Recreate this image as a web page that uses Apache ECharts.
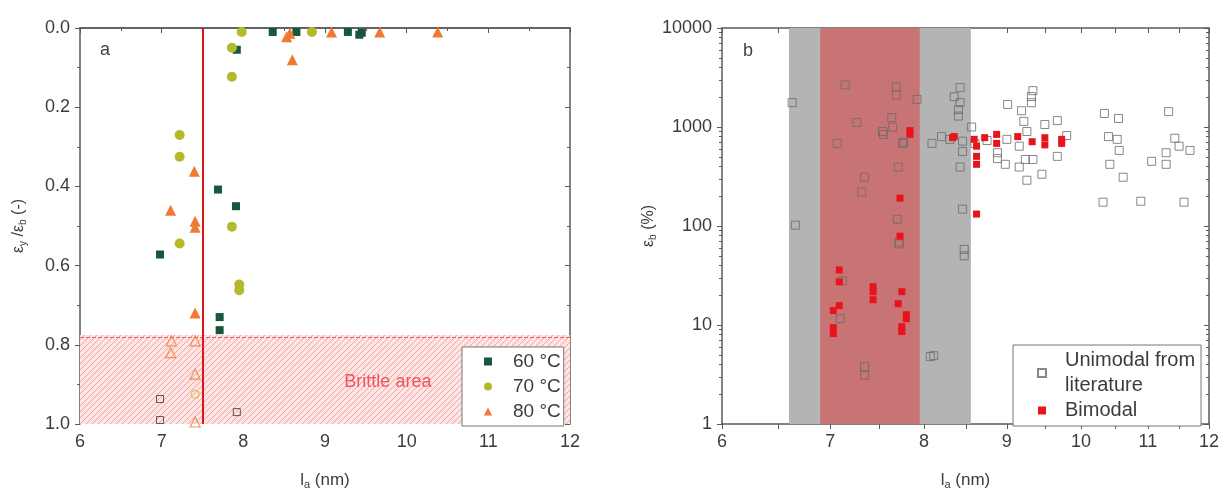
<!DOCTYPE html>
<html>
<head>
<meta charset="utf-8">
<script src="https://cdn.jsdelivr.net/npm/echarts@6/dist/echarts.min.js"></script>
<style>
html,body{margin:0;padding:0;background:#fff;}
#main{width:1222px;height:495px;}
</style>
</head>
<body>
<div id="main"></div>
<script>
// ---------- Panel a data: [la (nm), eps_y/eps_b] ----------
var t60Filled = [[8.36,0.01],[8.65,0.01],[9.28,0.01],[9.45,0.012],[9.42,0.017],[7.92,0.055],[7.69,0.408],[7.91,0.45],[6.98,0.572],[7.71,0.73],[7.71,0.763]];
var t60Hollow = [[6.98,0.937],[6.98,0.99],[7.92,0.97]];
var t70Filled = [[7.98,0.01],[8.84,0.01],[7.86,0.05],[7.86,0.123],[7.22,0.27],[7.22,0.325],[7.22,0.544],[7.86,0.502],[7.95,0.648],[7.95,0.662]];
var t70Hollow = [[7.41,0.925]];
var t80Filled = [[8.57,0.013],[8.53,0.022],[8.6,0.08],[9.08,0.01],[9.67,0.01],[10.38,0.01],[7.4,0.362],[7.11,0.46],[7.41,0.488],[7.41,0.503],[7.41,0.72]];
var t80Hollow = [[7.12,0.79],[7.11,0.82],[7.41,0.79],[7.41,0.874],[7.41,0.995]];
var brittleLimit = 0.775;
var brittleLine = 7.5;

// ---------- Panel b data: [la (nm), eps_b (%)] ----------
var unimodal = [[6.63,1760],[6.66,102],[7.15,2670],[7.27,1110],[7.07,683],[7.35,311],[7.32,220],[7.69,2540],[7.69,2100],[7.64,1245],[7.65,995],[7.55,842],[7.76,683],[7.71,394],[7.92,1900],
  [7.12,28],[7.1,11.6],[7.35,3.8],[7.35,3.1],[8.07,4.8],[8.11,4.9],[7.72,69],[7.7,117],[7.72,66],[7.54,900],[7.77,700],
  [8.09,683],[8.2,800],[8.42,2500],[8.42,1760],[8.35,2020],[8.4,1500],[8.4,1290],[8.45,566],[8.42,394],[8.45,148],[8.56,1000],[8.3,750],[8.47,58],[8.47,50],[8.45,720],
  [9.34,2330],[9.32,2030],[9.32,1760],[9.01,1690],[9.19,1460],[9.22,1140],[9.5,1060],[9.67,1160],[9.26,900],[9.8,820],[9.0,750],[9.16,640],[8.88,550],[8.88,480],[8.98,420],[9.24,470],[9.34,470],[9.16,394],[9.46,333],[9.26,290],[9.67,505],[8.6,680],[8.75,730],
  [10.34,1370],[10.55,1220],[10.4,800],[10.53,750],[10.56,580],[10.42,420],[10.62,311],[10.32,174],[10.89,178],[11.06,450],[11.33,1430],[11.29,550],[11.29,420],[11.43,770],[11.5,640],[11.68,580],[11.58,174]];
var bimodal = [[7.09,36],[7.09,27.3],[7.03,14],[7.09,15.7],[7.03,9.4],[7.03,8.2],[7.44,24.4],[7.44,21.7],[7.44,18],[7.75,21.7],[7.71,16.4],[7.8,12.7],[7.8,11.6],[7.75,9.6],[7.75,8.6],[7.73,191],[7.73,79],[7.84,920],[7.84,842],
  [8.33,780],[8.35,800],[8.59,750],[8.62,640],[8.62,505],[8.62,420],[8.72,780],[8.87,842],[8.87,683],[9.14,800],[9.33,710],[9.5,780],[9.5,660],[9.73,750],[9.73,683],[8.62,132]];
var grayBand = [6.6, 8.55];
var redBand = [6.9, 7.95];

// ticks
var xTicksB = [6,7,8,9,10,11,12];
var xMinorB = [6.5,7.5,8.5,9.5,10.5,11.5];
var yTicksB = [1,10,100,1000,10000];
var yMinorB = [];
[1,10,100,1000].forEach(function(d){ for (var k=2;k<=9;k++) yMinorB.push(d*k); });

var FONT = '"Liberation Sans", Arial, sans-serif';
var AX = '#5a5a5a';
var LBL = '#3c3c3c';
var FS = 18;

// hatch pattern
var pc = document.createElement('canvas');
pc.width = 6; pc.height = 6;
var g = pc.getContext('2d');
g.fillStyle = 'rgba(255,228,228,1)';
g.fillRect(0,0,6,6);
g.strokeStyle = 'rgba(232,120,120,0.75)';
g.lineWidth = 0.8;
g.beginPath();
g.moveTo(0,6); g.lineTo(6,0);
g.moveTo(-1,1); g.lineTo(1,-1);
g.moveTo(5,7); g.lineTo(7,5);
g.stroke();

function lineStyle(){ return {show:true, lineStyle:{color:AX, width:1.5}}; }
function plain(v){ return String(v); }

var chart = echarts.init(document.getElementById('main'));
var option = {
  backgroundColor: '#fff',
  animation: false,
  textStyle: {fontFamily: FONT},
  grid: [
    {left:80, top:28, width:490, height:397},
    {left:722, top:28, width:487, height:398}
  ],
  graphic: [
    {type:'text', left:100, top:41, style:{text:'a', font:'18px '+FONT, fill:'#444'}},
    {type:'text', left:743, top:42, style:{text:'b', font:'18px '+FONT, fill:'#444'}}
  ],
  legend: [
    {
      data: ['60 °C','70 °C','80 °C'],
      orient: 'vertical', left: 462, top: 347,
      backgroundColor:'#fff', borderColor:'#777', borderWidth:1,
      padding:[5,3,5,22], itemGap:6, itemWidth:8, itemHeight:8,
      textStyle:{fontSize:19, color:LBL, fontFamily:FONT, padding:[0,0,0,16]}
    },
    {
      data: ['Unimodal from\nliterature','Bimodal'],
      orient: 'vertical', left: 1013, top: 345,
      backgroundColor:'#fff', borderColor:'#777', borderWidth:1,
      padding:[3,6,3,24], itemGap:0, itemWidth:8, itemHeight:8,
      textStyle:{fontSize:20, color:LBL, fontFamily:FONT, padding:[0,0,0,14], lineHeight:25}
    }
  ],
  xAxis: [
    {gridIndex:0, type:'value', min:6, max:12, interval:1, position:'bottom',
      axisLine:lineStyle(), axisTick:{show:true, length:5, lineStyle:{color:AX}},
      minorTick:{show:true, splitNumber:2, length:3, lineStyle:{color:AX}},
      splitLine:{show:false},
      axisLabel:{fontSize:FS, color:LBL, margin:9},
      name:'{m|l}{s|a}{m| (nm)}', nameLocation:'middle', nameGap:46,
      nameTextStyle:{rich:{m:{fontSize:17,color:LBL}, s:{fontSize:11,color:LBL,padding:[9,0,0,0]}}}
    },
    {gridIndex:0, type:'value', min:6, max:12, interval:1, position:'top',
      axisLine:lineStyle(), axisTick:{show:true, inside:true, length:5, lineStyle:{color:AX}},
      minorTick:{show:true, splitNumber:2, length:3, lineStyle:{color:AX}},
      splitLine:{show:false}, axisLabel:{show:false}
    },
    {gridIndex:1, type:'log', min:6, max:12, position:'bottom',
      axisLine:lineStyle(),
      axisTick:{show:true, length:5, customValues: xTicksB.concat(xMinorB), lineStyle:{color:AX}},
      splitLine:{show:false},
      axisLabel:{fontSize:FS, color:LBL, margin:9, customValues: xTicksB, formatter:plain},
      name:'{m|l}{s|a}{m| (nm)}', nameLocation:'middle', nameGap:46,
      nameTextStyle:{rich:{m:{fontSize:17,color:LBL}, s:{fontSize:11,color:LBL,padding:[9,0,0,0]}}}
    },
    {gridIndex:1, type:'log', min:6, max:12, position:'top',
      axisLine:lineStyle(),
      axisTick:{show:true, inside:true, length:5, customValues: xTicksB.concat(xMinorB), lineStyle:{color:AX}},
      splitLine:{show:false}, axisLabel:{show:false}
    }
  ],
  yAxis: [
    {gridIndex:0, type:'value', min:0, max:1, interval:0.2, inverse:true, position:'left',
      axisLine:lineStyle(), axisTick:{show:true, length:5, lineStyle:{color:AX}},
      minorTick:{show:true, splitNumber:2, length:3, lineStyle:{color:AX}},
      splitLine:{show:false},
      axisLabel:{fontSize:FS, color:LBL, margin:10, formatter:function(v){return v.toFixed(1);}},
      name:'{m|ε}{s|y}{m| /ε}{s|b}{m| (-)}', nameLocation:'middle', nameGap:52,
      nameTextStyle:{rich:{m:{fontSize:16,color:LBL}, s:{fontSize:10,color:LBL,padding:[8,0,0,0]}}}
    },
    {gridIndex:0, type:'value', min:0, max:1, interval:0.2, inverse:true, position:'right',
      axisLine:lineStyle(), axisTick:{show:true, inside:true, length:5, lineStyle:{color:AX}},
      minorTick:{show:true, splitNumber:2, length:3, lineStyle:{color:AX}},
      splitLine:{show:false}, axisLabel:{show:false}
    },
    {gridIndex:1, type:'log', min:1, max:10000, position:'left',
      axisLine:lineStyle(),
      axisTick:{show:true, length:5, customValues:yTicksB, lineStyle:{color:AX}},
      splitLine:{show:false},
      axisLabel:{fontSize:FS, color:LBL, margin:10, customValues:yTicksB, formatter:plain},
      name:'{m|ε}{s|b}{m| (%)}', nameLocation:'middle', nameGap:60,
      nameTextStyle:{rich:{m:{fontSize:16,color:LBL}, s:{fontSize:10,color:LBL,padding:[8,0,0,0]}}}
    },
    {gridIndex:1, type:'log', min:1, max:10000, position:'left',
      axisLine:{show:false},
      axisTick:{show:true, length:3, customValues:yMinorB, lineStyle:{color:AX}},
      splitLine:{show:false}, axisLabel:{show:false}
    },
    {gridIndex:1, type:'log', min:1, max:10000, position:'right',
      axisLine:lineStyle(),
      axisTick:{show:true, inside:true, length:5, customValues:yTicksB, lineStyle:{color:AX}},
      splitLine:{show:false}, axisLabel:{show:false}
    },
    {gridIndex:1, type:'log', min:1, max:10000, position:'right',
      axisLine:{show:false},
      axisTick:{show:true, inside:true, length:3, customValues:yMinorB, lineStyle:{color:AX}},
      splitLine:{show:false}, axisLabel:{show:false}
    }
  ],
  series: [
    // brittle area + lines in panel a
    {type:'scatter', name:'brittle', xAxisIndex:0, yAxisIndex:0, data:[], z:1, silent:true,
      markArea:{silent:true, itemStyle:{color:{image:pc, repeat:'repeat'}, borderWidth:0},
        data:[[{xAxis:6, yAxis:brittleLimit},{xAxis:12, yAxis:1}]]},
      markLine:{silent:true, symbol:'none', label:{show:false},
        data:[
          {yAxis:brittleLimit, lineStyle:{color:'#e06a6a', type:[4,2], width:1.2}},
          {xAxis:brittleLine, lineStyle:{color:'#d9161c', type:'solid', width:2}}
        ]}
    },
    {type:'scatter', name:'brittleText', xAxisIndex:0, yAxisIndex:0, z:2, silent:true,
      symbolSize:0, data:[[9.77,0.893]],
      label:{show:true, position:'inside', formatter:'Brittle area', fontSize:18, color:'#e83440', fontFamily:FONT}
    },
    {type:'scatter', name:'60 °C', xAxisIndex:0, yAxisIndex:0, z:5, symbol:'rect', symbolSize:8,
      itemStyle:{color:'#17573a', opacity:1}, data:t60Filled},
    {type:'scatter', name:'70 °C', xAxisIndex:0, yAxisIndex:0, z:5, symbol:'circle', symbolSize:10,
      itemStyle:{color:'#b3ba2c', opacity:1}, data:t70Filled},
    {type:'scatter', name:'80 °C', xAxisIndex:0, yAxisIndex:0, z:5, symbol:'triangle', symbolSize:11,
      itemStyle:{color:'#f07a32', opacity:1}, data:t80Filled},
    {type:'scatter', name:'60h', xAxisIndex:0, yAxisIndex:0, z:5, symbol:'rect', symbolSize:7,
      itemStyle:{color:'rgba(0,0,0,0)', borderColor:'#333', borderWidth:1}, data:t60Hollow},
    {type:'scatter', name:'70h', xAxisIndex:0, yAxisIndex:0, z:5, symbol:'circle', symbolSize:8,
      itemStyle:{color:'rgba(0,0,0,0)', borderColor:'#c4c436', borderWidth:1.2}, data:t70Hollow},
    {type:'scatter', name:'80h', xAxisIndex:0, yAxisIndex:0, z:5, symbol:'triangle', symbolSize:10,
      itemStyle:{color:'rgba(0,0,0,0)', borderColor:'#f07a32', borderWidth:1.2}, data:t80Hollow},
    // bands in panel b
    {type:'scatter', name:'bands', xAxisIndex:2, yAxisIndex:2, data:[], z:1, silent:true,
      markArea:{silent:true,
        data:[
          [{xAxis:grayBand[0], yAxis:1, itemStyle:{color:'#b4b4b4'}},{xAxis:grayBand[1], yAxis:10000}],
          [{xAxis:redBand[0], yAxis:1, itemStyle:{color:'#c97474'}},{xAxis:redBand[1], yAxis:10000}]
        ]}
    },
    {type:'scatter', name:'Unimodal from\nliterature', xAxisIndex:2, yAxisIndex:2, z:5, symbol:'rect', symbolSize:8,
      itemStyle:{color:'rgba(0,0,0,0)', borderColor:'#6a6a6a', borderWidth:1}, data:unimodal},
    {type:'scatter', name:'Bimodal', xAxisIndex:2, yAxisIndex:2, z:6, symbol:'rect', symbolSize:7,
      itemStyle:{color:'#e8141c', opacity:1}, data:bimodal}
  ]
};
chart.setOption(option);
</script>
</body>
</html>
